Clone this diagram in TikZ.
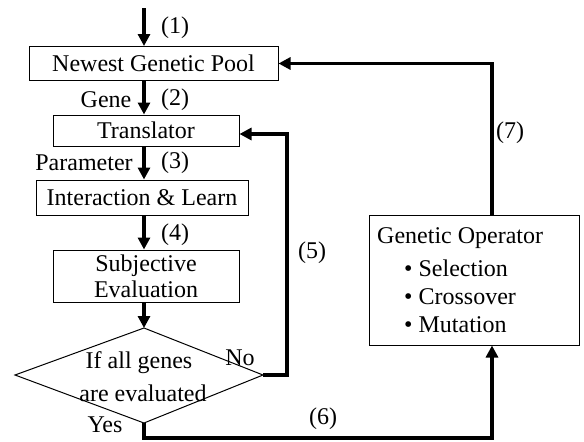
\documentclass[tikz,border=0pt]{standalone}
\usepackage{fontspec}
\setmainfont{Liberation Serif}
\usetikzlibrary{arrows.meta}
\begin{document}
\begin{tikzpicture}[x=1pt,y=-1pt,
  every node/.style={font=\fontsize{24}{28}\selectfont, inner sep=0pt},
  boxnode/.style={draw, line width=1pt, align=center},
  flow/.style={line width=3.6pt, line join=miter, -{Triangle[length=12pt,width=12pt]}},
  flowline/.style={line width=3.6pt, line join=miter},
  lbl/.style={}]
\useasboundingbox (0,0) rectangle (584,442);
% boxes
\node[boxnode, minimum width=249pt, minimum height=34pt] (b1) at (153.5,63.5) {Newest Genetic Pool};
\node[boxnode, minimum width=186pt, minimum height=31pt] (b2) at (146,130.5) {Translator};
\node[boxnode, minimum width=212pt, minimum height=35pt] (b3) at (142,197.5) {Interaction \& Learn};
\node[boxnode, minimum width=186pt, minimum height=52pt, font=\fontsize{24}{26}\selectfont] (b4) at (146,276) {Subjective\\Evaluation};
\node[boxnode, minimum width=210pt, minimum height=130pt] (go) at (474,280) {};
\node[anchor=west] (got) at (377,238) {Genetic Operator};
\node[anchor=west] (g1) at (404,268) {• Selection};
\node[anchor=west] (g2) at (404,297) {• Crossover};
\node[anchor=west] (g3) at (404,325) {• Mutation};
% diamond
\coordinate (dt) at (144,328);
\coordinate (dr) at (263,375);
\coordinate (db) at (144,423);
\coordinate (dl) at (15,375);
\draw[line width=1pt, line join=miter] (dt) -- (dr) -- (db) -- (dl) -- cycle;
\node (d1) at (139,363) {If all genes};
\node (d2) at (143,393) {are evaluated};
% helper coordinates
\coordinate (ax) at (144,0);
\coordinate (start) at (144,8);
\coordinate (rx) at (492,0);
\coordinate (c5) at (287,375);
\coordinate (c5t) at (287,134);
\coordinate (c6a) at (144,438);
\coordinate (c6b) at (492,438);
% arrows
\draw[flow] (start) -- (b1.north -| ax);
\draw[flow] (b1.south -| ax) -- (b2.north -| ax);
\draw[flow] (b2.south -| ax) -- (b3.north -| ax);
\draw[flow] (b3.south -| ax) -- (b4.north -| ax);
\draw[flow] (b4.south -| ax) -- (dt);
\draw[flow] (dr) -- (c5) -- (c5t) -- (b2.east |- c5t);
\draw[flow] (db) -- (c6a) -- (c6b) -- (go.south -| rx);
\draw[flow] (go.north -| rx) |- (b1.east);
% labels
\node (l1) at (175,28) {(1)};
\node (l2) at (175,100) {(2)};
\node (l3) at (175,163) {(3)};
\node (l4) at (175,235) {(4)};
\node (l5) at (312,253) {(5)};
\node (l6) at (323,419) {(6)};
\node (l7) at (510,133) {(7)};
\node (gene) at (106,100) {Gene};
\node (param) at (84,163) {Parameter};
\node (no) at (240,358) {No};
\node (yes) at (105,425) {Yes};
\end{tikzpicture}
\end{document}
